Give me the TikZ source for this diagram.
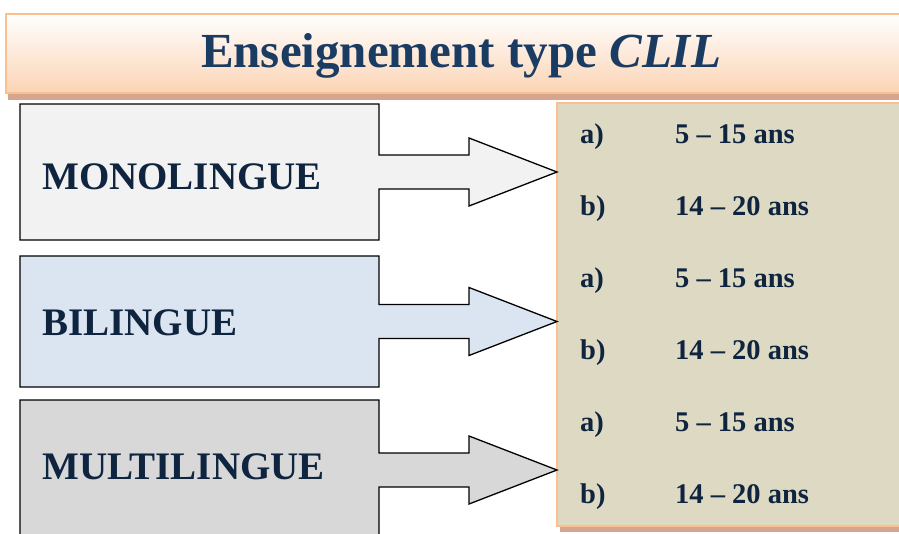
\documentclass[tikz,border=0pt]{standalone}
\usepackage{fontspec}
\setmainfont{Liberation Serif}
\usetikzlibrary{positioning,calc}

\definecolor{navy}{HTML}{0F243E}
\definecolor{titleblue}{HTML}{1B3C62}
\definecolor{peach}{HTML}{FAC090}
\definecolor{peachlight}{HTML}{FBD4B4}
\definecolor{tan}{HTML}{DDD9C3}
\definecolor{shadowbrown}{HTML}{D6A58E}
\definecolor{monofill}{HTML}{F2F2F2}
\definecolor{bifill}{HTML}{DBE5F1}
\definecolor{multifill}{HTML}{D8D8D8}

\tikzset{
  banner/.style={draw=peach, line width=1.5pt, top color=white, bottom color=peachlight},
  panel/.style={draw=peach, line width=1.5pt, fill=tan},
  shadowstrip/.style={fill=shadowbrown},
  callout/.style={draw=black, line width=1.3pt, line join=miter},
  langlabel/.style={font=\bfseries\fontsize{39}{42}\selectfont, text=navy, anchor=base west, inner sep=0pt},
  agelabel/.style={font=\bfseries\fontsize{28.5}{31}\selectfont, text=navy, anchor=base west, inner sep=0pt}
}

\begin{document}
\begin{tikzpicture}[x=1pt,y=-1pt]
  \useasboundingbox (0,0) rectangle (899,533);

  % title banner
  \fill[shadowstrip] (8,94) rectangle (905,100);
  \draw[banner] (6,14) rectangle (905,93);
  \node[font=\bfseries\fontsize{49}{52}\selectfont, text=titleblue, anchor=base] (title) at (461,67)
    {Enseignement type \textit{CLIL}};

  % age panel
  \fill[shadowstrip] (560,527) rectangle (905,532);
  \draw[panel] (557,103) rectangle (905,526);
  \coordinate (panel-w) at (557,300);

  % language boxes with arrows
  \foreach \n/\lbl/\col/\ya/\yb/\base in {
      mono/MONOLINGUE/monofill/104/240/189,
      bi/BILINGUE/bifill/256/387/335,
      multi/MULTILINGUE/multifill/400/540/479}{
    \pgfmathsetmacro{\m}{(\ya+\yb)/2}
    \coordinate (\n-mid) at (20,\m);
    \draw[callout, fill=\col]
      (20,\ya) -- (379,\ya) -- (379,\m-17) -- (469,\m-17) -- (469,\m-34)
      -- (panel-w |- \n-mid)
      -- (469,\m+34) -- (469,\m+17) -- (379,\m+17) -- (379,\yb) -- (20,\yb) -- cycle;
    \node[langlabel] (\n) at (42,\base) {\lbl};
  }

  % ages
  \foreach \i/\y in {1/143, 2/287, 3/431}{
    \node[agelabel] (a\i) at (580,\y) {a)};
    \node[agelabel] (r\i) at (675,\y) {5 -- 15 ans};
    \node[agelabel] (b\i) at (580,\y+72) {b)};
    \node[agelabel] (s\i) at (675,\y+72) {14 -- 20 ans};
  }
\end{tikzpicture}
\end{document}
